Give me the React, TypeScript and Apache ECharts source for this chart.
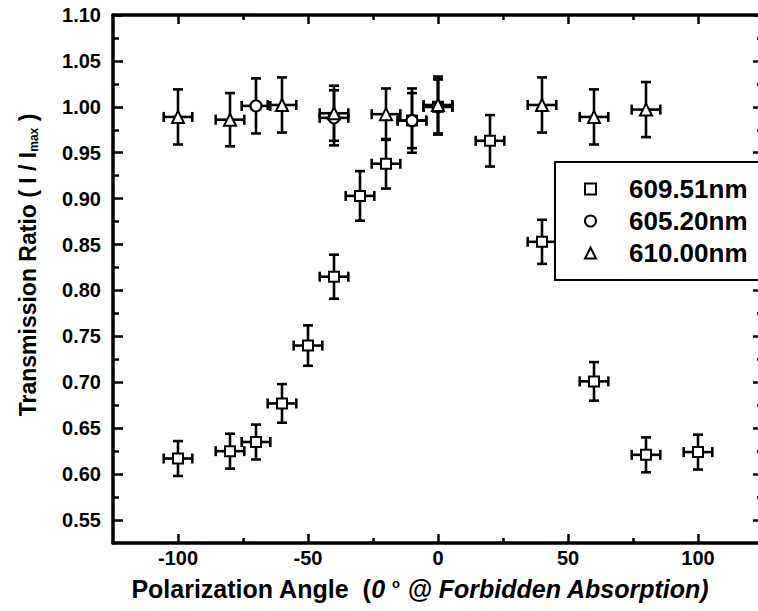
import React, { useEffect, useRef } from "react";
import * as echarts from "echarts";

// ---- data ----
const squareAngle = [-100, -80, -70, -60, -50, -40, -30, -20, -10, 0, 20, 40, 60, 80, 100];
const squareRatio = [0.617, 0.625, 0.635, 0.677, 0.740, 0.815, 0.903, 0.938, 0.985, 1.0, 0.963, 0.853, 0.701, 0.621, 0.624];
const squareErr = [0.019, 0.019, 0.019, 0.021, 0.022, 0.024, 0.027, 0.027, 0.03, 0.03, 0.028, 0.024, 0.021, 0.019, 0.019];

const circleAngle = [-70, -40, -10, 0];
const circleRatio = [1.001, 0.988, 0.985, 1.0];
const circleErr = [0.03, 0.03, 0.035, 0.03];

const triangleAngle = [-100, -80, -60, -40, -20, 0, 40, 60, 80];
const triangleRatio = [0.989, 0.986, 1.002, 0.993, 0.992, 1.002, 1.002, 0.989, 0.997];
const triangleErr = [0.03, 0.029, 0.03, 0.03, 0.028, 0.031, 0.03, 0.03, 0.03];

const ANGLE_ERR = 5.5;

const seriesNames = ["609.51nm", "605.20nm", "610.00nm"];

const xMajorTicks = [-100, -50, 0, 50, 100];
const xMinorTicks = [-75, -25, 25, 75];
const yMajorTicks = [0.55, 0.6, 0.65, 0.7, 0.75, 0.8, 0.85, 0.9, 0.95, 1.0, 1.05, 1.1];
const yMinorTicks = [0.575, 0.625, 0.675, 0.725, 0.775, 0.825, 0.875, 0.925, 0.975, 1.025, 1.075];

const FONT = "'Liberation Sans', Arial, Helvetica, sans-serif";

function errData(xs: number[], ys: number[], es: number[]) {
  return xs.map((x, i) => [x, ys[i], ANGLE_ERR, es[i]]);
}
function ptData(xs: number[], ys: number[]) {
  return xs.map((x, i) => [x, ys[i]]);
}

const renderErr = (params: any, api: any) => {
  const x = api.value(0);
  const y = api.value(1);
  const xe = api.value(2);
  const ye = api.value(3);
  const top = api.coord([x, y + ye]);
  const bot = api.coord([x, y - ye]);
  const l = api.coord([x - xe, y]);
  const r = api.coord([x + xe, y]);
  const cw = 5;
  const ch = 5;
  const style = { stroke: "#000", lineWidth: 2.6, fill: null };
  return {
    type: "group",
    children: [
      { type: "line", shape: { x1: top[0], y1: top[1], x2: bot[0], y2: bot[1] }, style },
      { type: "line", shape: { x1: top[0] - cw, y1: top[1], x2: top[0] + cw, y2: top[1] }, style },
      { type: "line", shape: { x1: bot[0] - cw, y1: bot[1], x2: bot[0] + cw, y2: bot[1] }, style },
      { type: "line", shape: { x1: l[0], y1: l[1], x2: r[0], y2: r[1] }, style },
      { type: "line", shape: { x1: l[0], y1: l[1] - ch, x2: l[0], y2: l[1] + ch }, style },
      { type: "line", shape: { x1: r[0], y1: r[1] - ch, x2: r[0], y2: r[1] + ch }, style },
    ],
  };
};

export default function App() {
  const ref = useRef<HTMLDivElement>(null);
  useEffect(() => {
    if (!ref.current) return;
    const chart = echarts.init(ref.current, null, { renderer: "svg" });
    const axisLine = { show: true, onZero: false, lineStyle: { color: "#000", width: 3.5 } };
    const noLine = { show: false, onZero: false };
    const tickStyle = { color: "#000", width: 2.5 };
    const baseX = { type: "value", min: -125, max: 125, interval: 25, splitLine: { show: false } };
    const baseY = { type: "value", min: 0.525, max: 1.1, interval: 0.025, splitLine: { show: false } };
    const markerStyle = { color: "#fff", borderColor: "#000", borderWidth: 2, opacity: 1 };
    const option: any = {
      animation: false,
      backgroundColor: "#fff",
      grid: { left: 113, right: 9, top: 15, bottom: 68, containLabel: false },
      xAxis: [
        {
          ...baseX,
          position: "bottom",
          axisLine,
          axisTick: { show: true, inside: true, length: 9, lineStyle: tickStyle, customValues: xMajorTicks },
          axisLabel: {
            show: true,
            customValues: xMajorTicks,
            margin: 5,
            color: "#000",
            fontFamily: FONT,
            fontWeight: "bold",
            fontSize: 20,
            formatter: (v: number) => String(v),
          },
        },
        {
          ...baseX,
          position: "bottom",
          axisLine: noLine,
          axisTick: { show: true, inside: true, length: 5, lineStyle: tickStyle, customValues: xMinorTicks },
          axisLabel: { show: false },
        },
        {
          ...baseX,
          position: "top",
          axisLine,
          axisTick: { show: true, inside: true, length: 9, lineStyle: tickStyle, customValues: xMajorTicks },
          axisLabel: { show: false },
        },
        {
          ...baseX,
          position: "top",
          axisLine: noLine,
          axisTick: { show: true, inside: true, length: 5, lineStyle: tickStyle, customValues: xMinorTicks },
          axisLabel: { show: false },
        },
      ],
      yAxis: [
        {
          ...baseY,
          position: "left",
          axisLine,
          axisTick: { show: true, inside: true, length: 10, lineStyle: tickStyle, customValues: yMajorTicks },
          axisLabel: {
            show: true,
            customValues: yMajorTicks,
            margin: 12,
            color: "#000",
            fontFamily: FONT,
            fontWeight: "bold",
            fontSize: 20,
            formatter: (v: number) => v.toFixed(2),
          },
        },
        {
          ...baseY,
          position: "left",
          axisLine: noLine,
          axisTick: { show: true, inside: true, length: 6, lineStyle: tickStyle, customValues: yMinorTicks },
          axisLabel: { show: false },
        },
        {
          ...baseY,
          position: "right",
          axisLine,
          axisTick: { show: true, inside: true, length: 10, lineStyle: tickStyle, customValues: yMajorTicks },
          axisLabel: { show: false },
        },
        {
          ...baseY,
          position: "right",
          axisLine: noLine,
          axisTick: { show: true, inside: true, length: 6, lineStyle: tickStyle, customValues: yMinorTicks },
          axisLabel: { show: false },
        },
      ],
      legend: {
        show: true,
        orient: "vertical",
        left: 555,
        top: 162,
        padding: [14, 40, 14, 29],
        itemGap: 6,
        itemWidth: 11,
        itemHeight: 11,
        borderColor: "#000",
        borderWidth: 2,
        backgroundColor: "#fff",
        textStyle: {
          color: "#000",
          fontFamily: FONT,
          fontWeight: "bold",
          fontSize: 26,
          lineHeight: 24,
          padding: [0, 0, 0, 28],
        },
        data: [
          { name: seriesNames[0], icon: "rect", itemStyle: markerStyle },
          { name: seriesNames[1], icon: "circle", itemStyle: markerStyle },
          { name: seriesNames[2], icon: "triangle", itemStyle: markerStyle },
        ],
      },
      graphic: [
        {
          type: "text",
          x: 28,
          y: 265,
          rotation: Math.PI / 2,
          style: {
            text: "Transmission Ratio ( I / I{sub|max} )",
            fontFamily: FONT,
            fontWeight: "bold",
            fontSize: 23,
            fill: "#000",
            align: "center",
            verticalAlign: "middle",
            rich: {
              sub: { fontFamily: FONT, fontWeight: "bold", fontSize: 12, fill: "#000", verticalAlign: "bottom", padding: [10, 0, 0, 0] },
            },
          },
        },
        {
          type: "text",
          x: 420,
          y: 589,
          style: {
            text: "{n|Polarization Angle  (}{i|0 }{s|o}{i| @ Forbidden Absorption)}",
            fontFamily: FONT,
            fontWeight: "bold",
            fontSize: 25,
            fill: "#000",
            align: "center",
            verticalAlign: "middle",
            rich: {
              n: { fontFamily: FONT, fontWeight: "bold", fontSize: 25, fill: "#000" },
              i: { fontFamily: FONT, fontWeight: "bold", fontStyle: "italic", fontSize: 25, fill: "#000" },
              s: { fontFamily: FONT, fontWeight: "bold", fontSize: 13, fill: "#000", verticalAlign: "top", padding: [0, 0, 12, 0] },
            },
          },
        },
      ],
      series: [
        {
          type: "custom",
          name: "err-" + seriesNames[0],
          renderItem: renderErr,
          data: errData(squareAngle, squareRatio, squareErr),
          encode: { x: 0, y: 1 },
          z: 2,
          silent: true,
        },
        {
          type: "custom",
          name: "err-" + seriesNames[1],
          renderItem: renderErr,
          data: errData(circleAngle, circleRatio, circleErr),
          encode: { x: 0, y: 1 },
          z: 2,
          silent: true,
        },
        {
          type: "custom",
          name: "err-" + seriesNames[2],
          renderItem: renderErr,
          data: errData(triangleAngle, triangleRatio, triangleErr),
          encode: { x: 0, y: 1 },
          z: 2,
          silent: true,
        },
        {
          type: "scatter",
          name: seriesNames[0],
          symbol: "rect",
          symbolSize: 10,
          itemStyle: markerStyle,
          data: ptData(squareAngle, squareRatio),
          z: 3,
        },
        {
          type: "scatter",
          name: seriesNames[1],
          symbol: "circle",
          symbolSize: 11,
          itemStyle: markerStyle,
          data: ptData(circleAngle, circleRatio),
          z: 4,
        },
        {
          type: "scatter",
          name: seriesNames[2],
          symbol: "triangle",
          symbolSize: 12,
          itemStyle: markerStyle,
          data: ptData(triangleAngle, triangleRatio),
          z: 5,
        },
      ],
    };
    chart.setOption(option);
    return () => chart.dispose();
  }, []);
  return (
    <div style={{ position: "absolute", left: 0, top: 0, width: 758, height: 611, overflow: "hidden", background: "#fff" }}>
      <div ref={ref} style={{ width: 772, height: 611 }} />
    </div>
  );
}
